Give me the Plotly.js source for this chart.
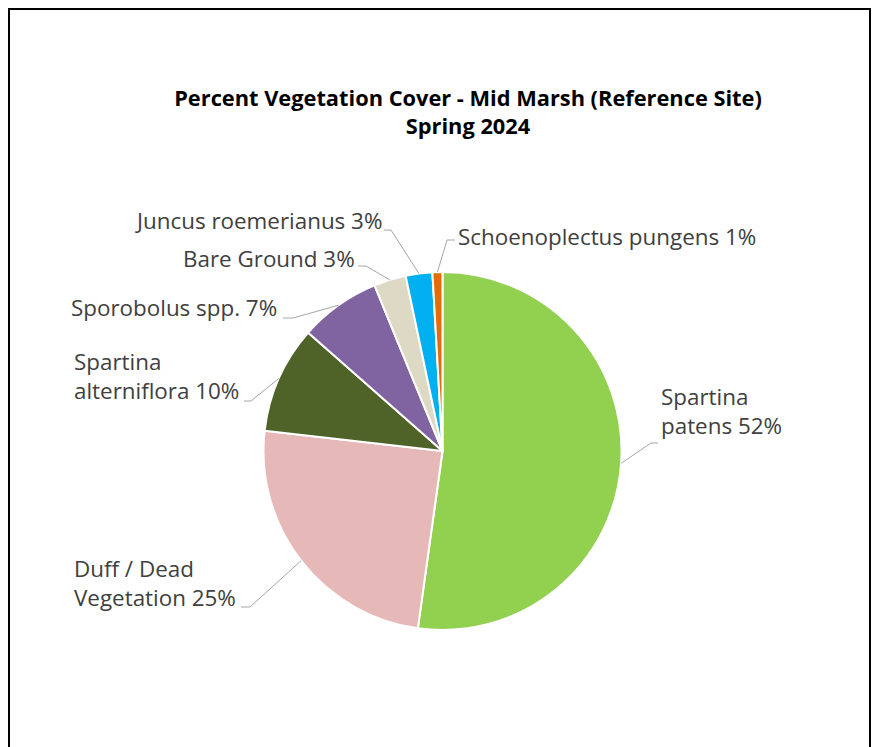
<!DOCTYPE html>
<html>
<head>
<meta charset="utf-8">
<script src="https://cdn.plot.ly/plotly-3.0.1.min.js"></script>
<style>html,body{margin:0;padding:0;background:#fff;}#chart{width:873px;height:747px;}</style>
</head>
<body>
<div id="chart"></div>
<script>
// ---- data ----
const categories = ['Spartina patens', 'Duff / Dead Vegetation', 'Spartina alterniflora', 'Sporobolus spp.', 'Bare Ground', 'Juncus roemerianus', 'Schoenoplectus pungens'];
const displayNames = ['Spartina<br>patens', 'Duff / Dead<br>Vegetation', 'Spartina<br>alterniflora', 'Sporobolus spp.', 'Bare Ground', 'Juncus roemerianus', 'Schoenoplectus pungens'];
const coverValues = [52.2, 24.6, 9.7, 7.3, 2.9, 2.4, 0.9];
const displayPct = [52, 25, 10, 7, 3, 3, 1];
const sliceColors = ['#92D050', '#E6B8B7', '#4F6228', '#8064A2', '#DDD9C4', '#00B0F0', '#E46C0A'];

// ---- layout constants (pixels, top-left origin) ----
const W = 873, H = 747;
const CX = 442.5, CY = 451, R = 179;
const labelPos = [
  {x: 659, y: 411, xa: 'left',  elbow: [651, 443], tail: [658, 443]},
  {x: 72,  y: 583, xa: 'left',  elbow: [250, 607], tail: [241, 607]},
  {x: 72,  y: 376, xa: 'left',  elbow: [251, 401], tail: [244, 401]},
  {x: 279, y: 307, xa: 'right', elbow: [293, 318], tail: [283, 318]},
  {x: 357, y: 258, xa: 'right', elbow: [366, 266], tail: [358, 266]},
  {x: 384, y: 220, xa: 'right', elbow: [391, 230], tail: [384, 230]},
  {x: 456, y: 237, xa: 'left',  elbow: [447, 240], tail: [455, 240]}
];

const px = x => x / W;
const py = y => 1 - y / H;

const total = coverValues.reduce((a, b) => a + b, 0);
let cum = 0;
const annotations = [];
const shapes = [];
coverValues.forEach((v, i) => {
  const mid = (cum + v / 2) / total;
  cum += v;
  const ang = mid * 2 * Math.PI;
  const ex = CX + R * Math.sin(ang);
  const ey = CY - R * Math.cos(ang);
  const L = labelPos[i];
  shapes.push({
    type: 'path', xref: 'paper', yref: 'paper',
    path: `M ${px(ex)} ${py(ey)} L ${px(L.elbow[0])} ${py(L.elbow[1])} L ${px(L.tail[0])} ${py(L.tail[1])}`,
    line: {color: '#A6A6A6', width: 1}
  });
  annotations.push({
    xref: 'paper', yref: 'paper', x: px(L.x), y: py(L.y),
    xanchor: L.xa, yanchor: 'middle', align: 'left',
    text: displayNames[i] + ' ' + displayPct[i] + '%',
    showarrow: false,
    font: {family: 'Open Sans', size: 22.4, color: '#404040'}
  });
});

// outer frame
shapes.push({
  type: 'rect', xref: 'paper', yref: 'paper',
  x0: px(9), x1: px(870), y0: py(770), y1: py(9),
  line: {color: '#000000', width: 2}, layer: 'above'
});

const trace = {
  type: 'pie',
  labels: categories,
  values: coverValues,
  sort: false,
  direction: 'clockwise',
  rotation: 0,
  textinfo: 'none',
  hoverinfo: 'label+percent',
  marker: {colors: sliceColors, line: {color: '#FFFFFF', width: 2}},
  domain: {x: [px(CX - R), px(CX + R)], y: [py(CY + R), py(CY - R)]}
};

const layout = {
  width: W, height: H,
  margin: {l: 0, r: 0, t: 0, b: 0},
  paper_bgcolor: '#FFFFFF',
  showlegend: false,
  title: {
    text: '<b>Percent Vegetation Cover - Mid Marsh (Reference Site)<br>Spring 2024</b>',
    x: px(468), xanchor: 'center', xref: 'paper',
    y: py(106), yanchor: 'middle', yref: 'paper',
    font: {family: 'Open Sans', size: 21.8, color: '#000000'}
  },
  annotations: annotations,
  shapes: shapes
};

Plotly.newPlot('chart', [trace], layout, {displayModeBar: false, staticPlot: true});
</script>
</body>
</html>
